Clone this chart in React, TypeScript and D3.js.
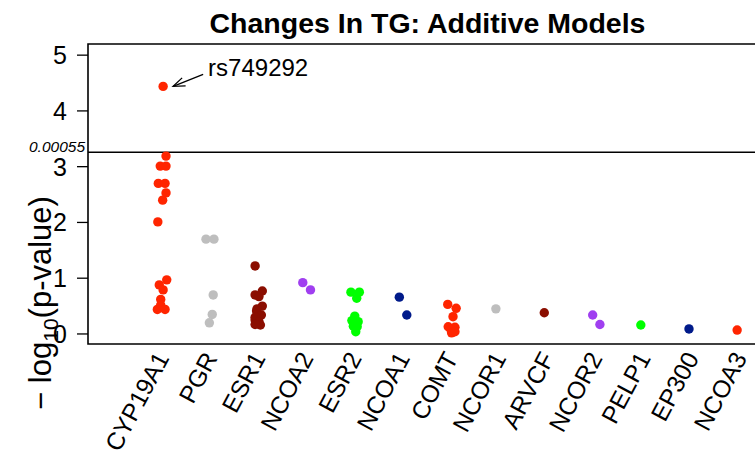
import * as d3 from "d3";

// genes along the x axis, in plot order
const genes = [
  "CYP19A1", "PGR", "ESR1", "NCOA2", "ESR2", "NCOA1", "COMT",
  "NCOR1", "ARVCF", "NCOR2", "PELP1", "EP300", "NCOA3",
];
const palette = ["#ff2500", "#bebebe", "#8b0e00", "#a03ff0", "#00ff00", "#001a8a"];

// -log10(p) per SNP, by gene
const logP = [
  [4.44, 3.19, 3.01, 3.01, 2.7, 2.7, 2.53, 2.4, 2.01, 0.97, 0.88, 0.79, 0.62, 0.52, 0.44, 0.44],
  [1.7, 1.7, 0.7, 0.35, 0.2],
  [1.22, 0.77, 0.7, 0.67, 0.5, 0.45, 0.41, 0.34, 0.3, 0.25, 0.22, 0.16, 0.17],
  [0.92, 0.79],
  [0.75, 0.75, 0.64, 0.32, 0.24, 0.22, 0.14, 0.13, 0.04],
  [0.66, 0.34],
  [0.53, 0.46, 0.31, 0.13, 0.12, 0.07, 0.02, 0.04],
  [0.45],
  [0.38],
  [0.34, 0.17],
  [0.16],
  [0.09],
  [0.07],
];
// horizontal jitter (fraction of a category) for each SNP above
const jitter = [
  [0.06, 0.12, 0, 0.12, -0.04, 0.1, 0.12, 0.05, -0.05, 0.135, -0.02, 0.06, 0.01, 0.01, -0.06, 0.1],
  [-0.05, 0.115, 0.1, 0.08, 0.02],
  [-0.03, 0.12, -0.03, 0.05, 0.12, 0.01, 0, 0.1, -0.03, -0.03, 0.05, 0.08, -0.03],
  [-0.04, 0.12],
  [-0.04, 0.135, 0.08, 0.04, -0.02, 0.11, 0.01, 0.09, 0.06],
  [-0.035, 0.12],
  [-0.03, 0.145, 0.08, -0.02, 0.12, 0.04, 0.05, 0.12],
  [-0.03],
  [-0.025],
  [-0.02, 0.13],
  [-0.02],
  [-0.02],
  [-0.02],
];
const yTicks = [0, 1, 2, 3, 4, 5];
const threshold = 0.00055;
const topSnp = "rs749292";

const W = 755, H = 461;
const font = "'Liberation Sans', Arial, Helvetica, sans-serif";

export default function App() {
  const x = d3.scaleLinear().domain([-1.5, 12.6]).range([88, 767]);
  const y = d3.scaleLinear().domain([-0.18, 5.2]).range([344, 44]);
  const [x0, x1] = x.range();
  const [yb, yt] = y.range();

  const points = logP.flatMap((vals, gi) =>
    vals.map((v, k) => ({ gi, v, j: jitter[gi][k] }))
  );
  const top = points.reduce((a, b) => (b.v > a.v ? b : a));
  const thrY = y(-Math.log10(threshold));
  const tx = x(top.gi + top.j), ty = y(top.v);

  return (
    <svg width={W} height={H} style={{ position: "absolute", left: 0, top: 0 }} fontFamily={font}>
      <rect width={W} height={H} fill="#fff" />
      <text x={(x0 + x1) / 2} y={33} textAnchor="middle" fontSize={28.5} fontWeight="bold">
        Changes In TG: Additive Models
      </text>

      {/* threshold */}
      <line x1={x0} x2={x1} y1={thrY} y2={thrY} stroke="#000" strokeWidth={1.5} />
      <text x={85} y={thrY} textAnchor="end" fontSize={15.5} fontStyle="italic">
        {threshold.toFixed(5)}
      </text>

      {points.map((p, i) => (
        <circle key={i} cx={x(p.gi + p.j)} cy={y(p.v)} r={4.7} fill={palette[p.gi % palette.length]} />
      ))}

      {/* annotation */}
      <line x1={tx + 40} y1={ty - 12} x2={tx + 10} y2={ty} stroke="#000" strokeWidth={1.3} />
      <path
        d={`M${tx + 19},${ty - 8.5} L${tx + 10},${ty} L${tx + 22.5},${ty - 0.5}`}
        fill="none"
        stroke="#000"
        strokeWidth={1.3}
      />
      <text x={tx + 45} y={ty - 10} fontSize={24}>{topSnp}</text>

      {/* frame */}
      <path d={`M${x1},${yt} H${x0} V${yb} H${x1}`} fill="none" stroke="#000" strokeWidth={1.6} />

      {/* y axis */}
      {yTicks.map((t) => (
        <g key={t}>
          <line x1={x0 - 11} x2={x0} y1={y(t)} y2={y(t)} stroke="#000" strokeWidth={1.3} />
          <text x={x0 - 21} y={y(t)} dy="0.36em" textAnchor="end" fontSize={25}>{t}</text>
        </g>
      ))}
      <text transform={`translate(51,303) rotate(-90)`} textAnchor="middle" fontSize={31}>
        <tspan>− log</tspan>
        <tspan fontSize={21} dy={7}>10</tspan>
        <tspan dy={-7}>(p-value)</tspan>
      </text>

      {/* x labels */}
      {genes.map((g, i) => (
        <text
          key={g}
          transform={`translate(${x(i) + 2},${354}) rotate(-62)`}
          textAnchor="end"
          dy="0.35em"
          fontSize={24.5}
        >
          {g}
        </text>
      ))}
    </svg>
  );
}
